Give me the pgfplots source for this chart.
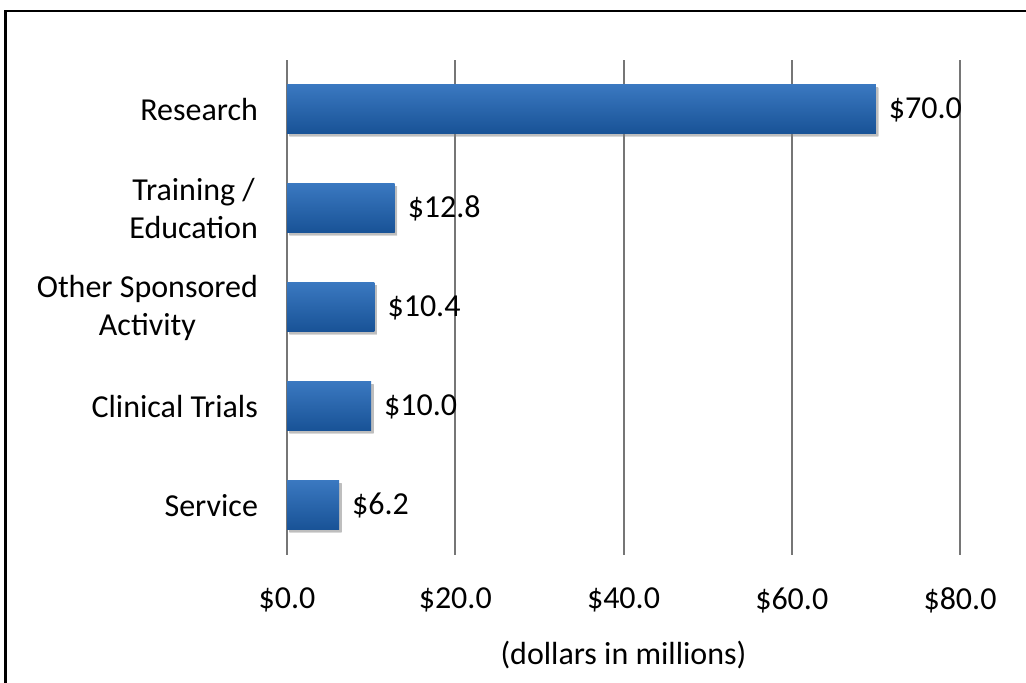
\documentclass[border=0pt]{standalone}
\usepackage{pgfplots}
\pgfplotsset{compat=1.18}
\usepackage{fontspec}
\setmainfont{Carlito}
\usetikzlibrary{shadows}
\definecolor{bartop}{RGB}{58,120,192}
\definecolor{barbot}{RGB}{24,82,150}
\definecolor{gridgray}{RGB}{118,118,118}
\begin{document}
\begin{tikzpicture}
\path[use as bounding box] (0,0) rectangle (513pt,341.5pt);
\draw[line width=1.4pt] (2.6pt,0) -- (2.6pt,336pt) -- (513pt,336pt);
\begin{axis}[
    at={(143.5pt,64pt)}, anchor=south west,
    scale only axis,
    width=336.5pt, height=247.5pt,
    xbar, bar width=24.5pt, bar shift=0pt,
    xmin=0, xmax=80,
    ymin=-0.5, ymax=4.5,
    xtick={0,20,40,60,80},
    ytick={0,1,2,3,4},
    yticklabels={Service, Clinical Trials, {Other Sponsored\\Activity}, {Training /\\Education}, Research},
    axis line style={draw=none},
    major tick length=0pt,
    xmajorgrids,
    grid style={gridgray, line width=1pt},
    font=\fontsize{16}{19}\selectfont,
    /pgf/number format/assume math mode=true,
    xticklabel={\$\pgfmathprintnumber[fixed,fixed zerofill,precision=1]{\tick}},
    xticklabel style={yshift=-13pt},
    yticklabel style={align=center, anchor=east, xshift=-11pt},
    xlabel={(dollars in millions)},
    xlabel style={at={(axis description cs:0.5,0)}, anchor=center, yshift=-50pt},
    point meta=x,
    nodes near coords={\$\pgfmathprintnumber[fixed,fixed zerofill,precision=1]{\pgfplotspointmeta}},
    nodes near coords style={anchor=west, xshift=3pt, text=black},
    every axis plot/.append style={draw=none, top color=bartop, bottom color=barbot,
        drop shadow={shadow xshift=1.2pt, shadow yshift=-1.2pt, opacity=0.3,
            top color=black!50, bottom color=black!50}},
]
\addplot coordinates {(6.2,0)};
\addplot coordinates {(10.0,1)};
\addplot coordinates {(10.4,2)};
\addplot coordinates {(12.8,3)};
\addplot coordinates {(70.0,4)};
\end{axis}
\end{tikzpicture}
\end{document}
